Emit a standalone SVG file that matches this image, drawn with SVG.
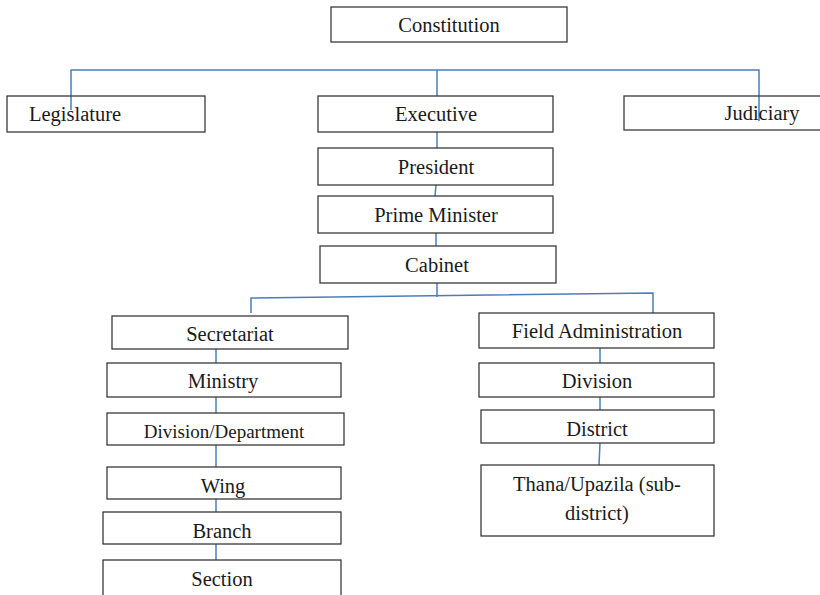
<svg xmlns="http://www.w3.org/2000/svg" width="820" height="595" viewBox="0 0 820 595">
<style>
.b{fill:none;stroke:#3a3a3a;stroke-width:1.3}
.t{font-family:"Liberation Serif","Times New Roman",serif;font-size:20.5px;fill:#1a1a1a;text-anchor:middle}
.c{stroke:#4a7ebb;stroke-width:1.5;fill:none}
</style>
<rect width="820" height="595" fill="#fff"/>
<g id="connectors">
<polyline class="c" points="71,110 71,70 759,70 759,121"/>
<line class="c" x1="437" y1="70" x2="437" y2="96"/>
<line class="c" x1="437" y1="132" x2="437" y2="148"/>
<line class="c" x1="436" y1="185" x2="435" y2="196"/>
<line class="c" x1="436" y1="233" x2="436" y2="246"/>
<line class="c" x1="437" y1="283" x2="437" y2="297"/>
<polyline class="c" points="251,313 251,298 653,293 653,313"/>
<line class="c" x1="216" y1="349" x2="216" y2="363"/>
<line class="c" x1="216" y1="397" x2="216" y2="413"/>
<line class="c" x1="216" y1="445" x2="216" y2="467"/>
<line class="c" x1="216" y1="499" x2="216" y2="512"/>
<line class="c" x1="216" y1="544" x2="216" y2="560"/>
<line class="c" x1="600" y1="348" x2="600" y2="363"/>
<line class="c" x1="600" y1="397" x2="600" y2="410"/>
<line class="c" x1="600" y1="443" x2="599" y2="465"/>
</g>
<g id="constitution"><rect class="b" x="331" y="7" width="236" height="35"/><text class="t" x="449" y="32">Constitution</text></g>
<g id="legislature"><rect class="b" x="7" y="96" width="198" height="36"/><text class="t" x="29" y="121" style="text-anchor:start">Legislature</text></g>
<g id="executive"><rect class="b" x="318" y="96" width="235" height="36"/><text class="t" x="436" y="121">Executive</text></g>
<g id="judiciary"><rect class="b" x="624" y="96" width="200" height="34"/><text class="t" x="762" y="120">Judiciary</text></g>
<g id="president"><rect class="b" x="318" y="148" width="235" height="37"/><text class="t" x="436" y="174">President</text></g>
<g id="prime-minister"><rect class="b" x="318" y="196" width="235" height="37"/><text class="t" x="436" y="222">Prime Minister</text></g>
<g id="cabinet"><rect class="b" x="320" y="246" width="236" height="37"/><text class="t" x="437" y="272">Cabinet</text></g>
<g id="secretariat"><rect class="b" x="112" y="316" width="236" height="33"/><text class="t" x="230" y="341">Secretariat</text></g>
<g id="ministry"><rect class="b" x="107" y="363" width="234" height="34"/><text class="t" x="223" y="388">Ministry</text></g>
<g id="division-department"><rect class="b" x="107" y="413" width="237" height="32"/><text class="t" x="224" y="438" style="font-size:19px">Division/Department</text></g>
<g id="wing"><rect class="b" x="107" y="467" width="234" height="32"/><text class="t" x="223" y="493">Wing</text></g>
<g id="branch"><rect class="b" x="103" y="512" width="238" height="32"/><text class="t" x="222" y="538">Branch</text></g>
<g id="section"><rect class="b" x="103" y="560" width="238" height="36"/><text class="t" x="222" y="586">Section</text></g>
<g id="field-administration"><rect class="b" x="479" y="313" width="235" height="35"/><text class="t" x="597" y="338">Field Administration</text></g>
<g id="division"><rect class="b" x="479" y="363" width="235" height="34"/><text class="t" x="597" y="388">Division</text></g>
<g id="district"><rect class="b" x="481" y="410" width="233" height="33"/><text class="t" x="597" y="436">District</text></g>
<g id="thana"><rect class="b" x="481" y="465" width="233" height="71"/><text class="t" x="597" y="491">Thana/Upazila (sub-</text><text class="t" x="597" y="520">district)</text></g>
</svg>
